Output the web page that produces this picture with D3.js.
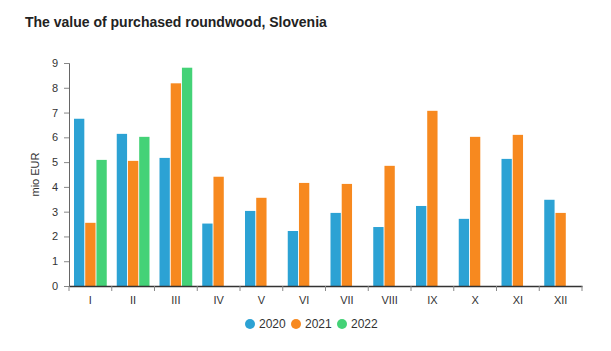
<!DOCTYPE html>
<html>
<head>
<meta charset="utf-8">
<script src="https://cdn.jsdelivr.net/npm/d3@7"></script>
<style>
  body { margin: 0; background: #fff; }
  text { font-family: "Liberation Sans", Arial, sans-serif; }
</style>
</head>
<body>
<div id="container"></div>
<script>
const canvasWidth = 611;
const canvasHeight = 351;

// data
let months = ['I','II','III','IV','V','VI','VII','VIII','IX','X','XI','XII'];
let years = ['2020','2021','2022'];
let v2020 = [6.75, 6.14, 5.17, 2.52, 3.03, 2.22, 2.95, 2.38, 3.23, 2.71, 5.13, 3.48];
let v2021 = [2.55, 5.05, 8.18, 4.41, 3.56, 4.16, 4.12, 4.85, 7.07, 6.02, 6.10, 2.95];
let v2022 = [5.09, 6.02, 8.81, null, null, null, null, null, null, null, null, null];
let yTicks = [0,1,2,3,4,5,6,7,8,9];

// year colour
let yc = {
  '2020':'#2ca2d4',
  '2021':'#f7891f',
  '2022':'#44d277'
}

let margin = {left: 69, right: 29, top: 63, bottom: 65};

let svg = d3.select('#container')
  .append('svg')
  .attr('width', canvasWidth)
  .attr('height', canvasHeight);

// title
svg.append('text')
  .attr('x', 25)
  .attr('y', 27)
  .style('font-size', '14px')
  .style('font-weight', 'bold')
  .style('fill', '#222')
  .text('The value of purchased roundwood, Slovenia');

let xScale = d3.scaleBand()
  .domain(months)
  .range([margin.left, canvasWidth - margin.right])
  .paddingInner(0)
  .paddingOuter(0);

let yScale = d3.scaleLinear()
  .domain([0, 9])
  .range([canvasHeight - margin.bottom, margin.top]);

// inner scale for the three years inside one month
let groupPad = 5;
let x1 = d3.scaleBand()
  .domain(years)
  .range([groupPad, xScale.bandwidth() - groupPad])
  .paddingInner(0.08);

let rows = [];
months.forEach(function(m, i){
  [v2020, v2021, v2022].forEach(function(arr, j){
    if(arr[i] != null){
      rows.push({month: m, year: years[j], value: arr[i]});
    }
  });
});

// y axis
let yAxis = svg.append('g')
  .attr('transform', 'translate(' + margin.left + ',0)')
  .call(d3.axisLeft(yScale).tickValues(yTicks).tickSize(5).tickPadding(6));
yAxis.select('.domain').attr('stroke', '#666');
yAxis.selectAll('.tick line').attr('stroke', '#888');
yAxis.selectAll('text').style('font-size', '11px').style('fill', '#333');

svg.append('text')
  .attr('transform', 'translate(39,' + (yScale(4.5)) + ') rotate(-90)')
  .attr('text-anchor', 'middle')
  .style('font-size', '11px')
  .style('fill', '#333')
  .text('mio EUR');

// bars
svg.append('g').selectAll('rect').data(rows).enter()
  .append('rect')
  .attr('x', function(d){ return xScale(d.month) + x1(d.year); })
  .attr('y', function(d){ return yScale(d.value); })
  .attr('width', x1.bandwidth())
  .attr('height', function(d){ return yScale(0) - yScale(d.value); })
  .style('fill', function(d){ return yc[d.year]; });

// x axis
let xAxis = svg.append('g')
  .attr('transform', 'translate(0,' + yScale(0) + ')')
  .call(d3.axisBottom(xScale).tickSize(0).tickPadding(10));
xAxis.select('.domain').attr('stroke', '#333').attr('stroke-width', 1.3);
xAxis.selectAll('text').style('font-size', '11px').style('fill', '#333');

let boundaries = months.map(function(m){ return xScale(m); }).concat([xScale.range()[1]]);
xAxis.selectAll('.bound').data(boundaries).enter()
  .append('line')
  .attr('class', 'bound')
  .attr('x1', function(d){ return d; })
  .attr('x2', function(d){ return d; })
  .attr('y1', 0)
  .attr('y2', 5)
  .attr('stroke', '#888');

// legend
let legend = svg.append('g').attr('transform', 'translate(250,324)');
let legendItems = legend.selectAll('.item').data(years).enter()
  .append('g')
  .attr('class', 'item')
  .attr('transform', function(d, i){ return 'translate(' + (i*46) + ',0)'; });
legendItems.append('circle')
  .attr('r', 5)
  .style('fill', function(d){ return yc[d]; });
legendItems.append('text')
  .attr('x', 9)
  .attr('y', 4)
  .style('font-size', '12px')
  .style('fill', '#333')
  .text(function(d){ return d; });
</script>
</body>
</html>
